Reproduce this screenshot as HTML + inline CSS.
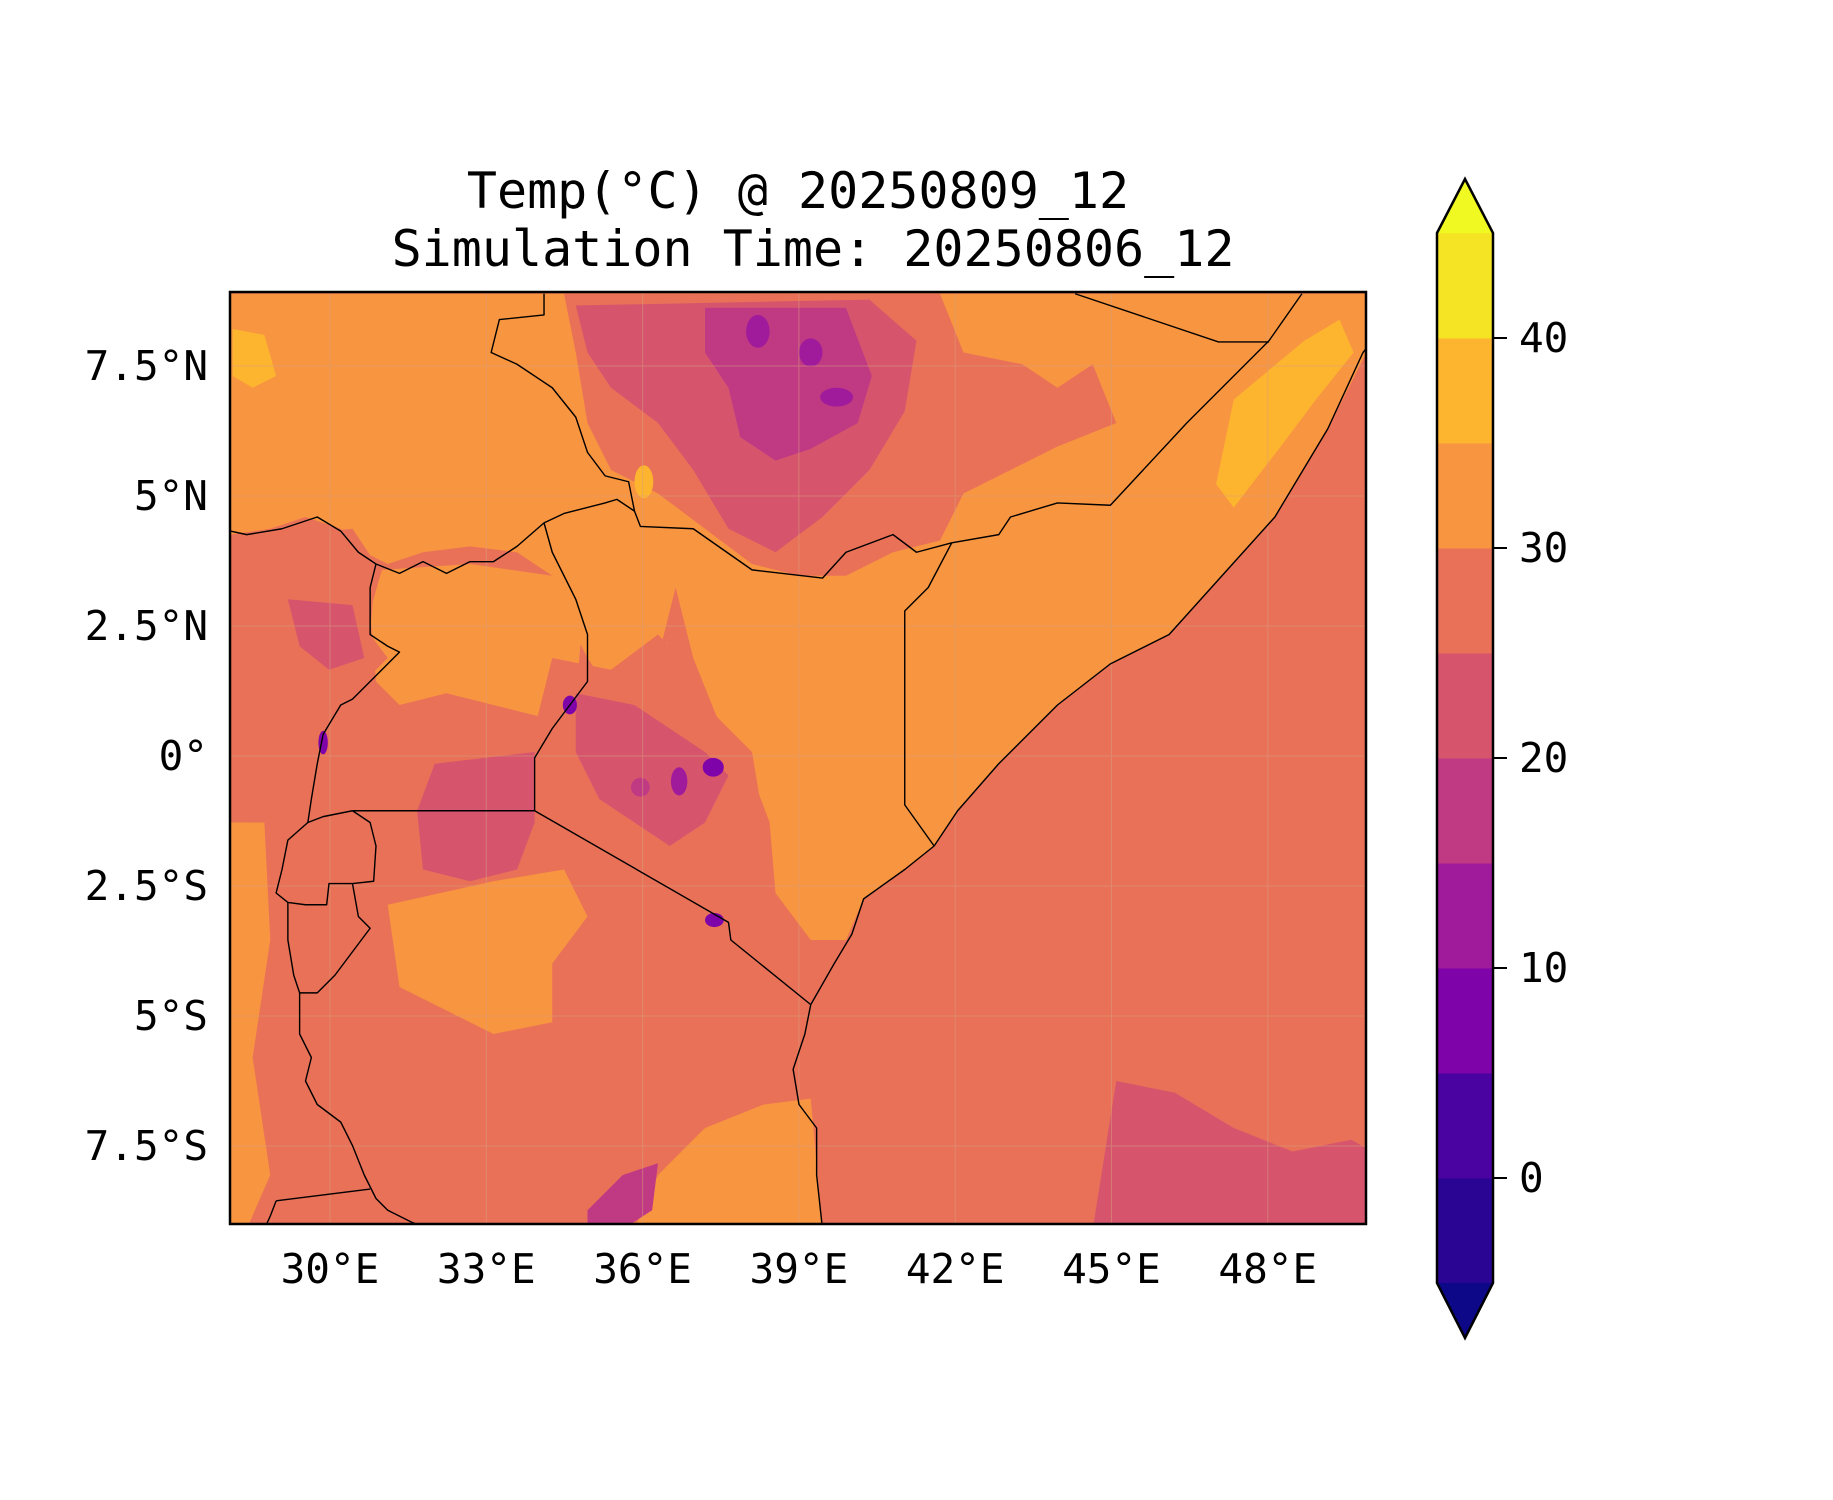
<!DOCTYPE html>
<html><head><meta charset="utf-8"><style>
html,body{margin:0;padding:0;background:#fff;}
svg{display:block;font-family:"DejaVu Sans Mono","Liberation Mono",monospace;}
</style></head><body>
<svg id="fig" width="1833" height="1500" viewBox="0 0 1833 1500" xmlns="http://www.w3.org/2000/svg">
<rect width="1833" height="1500" fill="#fff"/>
<g font-size="50" text-anchor="middle" fill="#000">
<text x="798" y="208">Temp(°C) @ 20250809_12</text>
<text x="813" y="266">Simulation Time: 20250806_12</text>
</g>
<defs><clipPath id="fr"><rect x="230" y="292" width="1136" height="932"/></clipPath></defs>
<g clip-path="url(#fr)">
<g transform="scale(1.175)" stroke="none">
<rect x="190" y="240" width="990" height="820" fill="#e97158"/>
<path fill="#f89540" d="M196,250 L1168,250 L1168,290 L1130,365 L1085,440 L1040,490 L995,540 L945,565 L900,600 L850,650 L815,690 L795,720 L770,740 L735,765 L720,800 L690,800 L660,760 L655,700 L640,660 L610,610 L590,560 L575,500 L560,560 L545,600 L520,590 L500,560 L480,520 L470,490 L440,470 L400,465 L360,470 L330,480 L310,470 L290,450 L260,440 L230,450 L196,455 Z"/>
<path fill="#f89540" d="M325,485 L400,480 L470,490 L495,540 L490,590 L460,610 L420,600 L380,590 L340,600 L320,580 L315,520 Z"/>
<path fill="#f89540" d="M330,770 L420,750 L480,740 L500,780 L470,820 L470,870 L420,880 L380,860 L340,840 Z"/>
<path fill="#f89540" d="M540,1046 L560,1000 L600,960 L650,940 L690,935 L700,1046 Z"/>
<path fill="#f89540" d="M196,700 L225,700 L230,800 L215,900 L230,1000 L210,1046 L196,1046 Z"/>
<path fill="#e97158" d="M480,250 L800,250 L820,300 L870,310 L900,330 L930,310 L950,360 L900,380 L860,400 L820,420 L800,460 L760,470 L720,490 L680,490 L640,480 L600,450 L560,420 L520,400 L500,360 L490,300 Z"/>
<path fill="#e97158" d="M196,460 L300,450 L320,480 L315,540 L330,560 L290,600 L270,650 L262,700 L230,700 L196,690 Z"/>
<path fill="#d6556d" d="M490,260 L740,255 L780,290 L770,350 L740,400 L700,440 L660,470 L620,450 L590,400 L560,360 L520,330 L500,300 Z"/>
<path fill="#c03a83" d="M600,262 L720,262 L742,320 L730,360 L690,382 L660,392 L630,372 L620,330 L600,300 Z"/>
<ellipse cx="645" cy="282" rx="10" ry="14" fill="#a01a9c"/>
<ellipse cx="712" cy="338" rx="14" ry="8" fill="#a01a9c"/>
<ellipse cx="690" cy="300" rx="10" ry="12" fill="#a01a9c"/>
<path fill="#fdb42f" d="M1050,340 L1110,290 L1140,272 L1152,300 L1120,340 L1090,380 L1050,432 L1035,412 Z"/>
<path fill="#fdb42f" d="M198,280 L225,285 L235,320 L215,330 L198,320 Z"/>
<ellipse cx="565" cy="560" rx="6" ry="14" fill="#fdb42f"/>
<ellipse cx="548" cy="410" rx="8" ry="14" fill="#fdb42f"/>
<path fill="#e97158" d="M470,560 L520,570 L560,540 L580,560 L600,600 L640,640 L650,700 L640,760 L620,800 L590,810 L550,790 L510,760 L480,720 L460,680 L455,620 Z"/>
<path fill="#d6556d" d="M490,590 L540,600 L570,620 L600,640 L620,660 L600,700 L570,720 L540,700 L510,680 L490,640 Z"/>
<ellipse cx="607" cy="653" rx="9" ry="8" fill="#7e03a8"/>
<ellipse cx="485" cy="600" rx="6" ry="8" fill="#7e03a8"/>
<ellipse cx="578" cy="665" rx="7" ry="12" fill="#a01a9c"/>
<ellipse cx="545" cy="670" rx="8" ry="8" fill="#c03a83"/>
<ellipse cx="608" cy="783" rx="8" ry="6" fill="#7e03a8"/>
<path fill="#d6556d" d="M370,650 L455,640 L455,700 L440,740 L400,750 L360,740 L355,690 Z"/>
<path fill="#d6556d" d="M245,510 L300,515 L310,560 L280,570 L255,550 Z"/>
<path fill="#d6556d" d="M930,1046 L950,920 L1000,930 L1050,960 L1100,980 L1150,970 L1168,980 L1168,1046 Z"/>
<path fill="#c03a83" d="M500,1030 L530,1000 L560,990 L555,1030 L530,1046 L500,1046 Z"/>
<ellipse cx="275" cy="632" rx="4" ry="10" fill="#7e03a8"/>
</g>
<g id="grid" stroke="#d8a080" stroke-width="1" opacity="0.5"></g>
<g transform="scale(1.175)" fill="none" stroke="#000" stroke-width="1.2" stroke-linejoin="round">
<polyline points="463,250 463,268 425,272 418,300 440,310 470,330 490,355 500,385 515,405 535,410 540,435 545,448 590,450 640,485 700,492 720,470 760,455 780,470 810,462 850,455 860,440 900,428 945,430 1010,360 1080,290 1108,250"/>
<polyline points="915,250 1037,291 1080,291"/>
<polyline points="540,435 525,425 515,428 480,437 463,445 440,465 420,478 400,478 380,488 360,478 340,488 320,480 305,470 290,452 270,440 255,445 240,450 210,455 196,452"/>
<polyline points="463,445 470,470 480,490 490,510 500,540 500,580 485,600 470,620 455,645 455,690"/>
<polyline points="810,462 790,500 770,520 770,685 795,720"/>
<polyline points="455,690 620,785 622,800 690,855"/>
<polyline points="300,690 455,690"/>
<polyline points="320,480 315,500 315,540 330,550 340,555 320,575 300,595 290,600 275,625 270,650 265,680 262,700"/>
<polyline points="262,700 275,695 300,690 315,700 320,720 318,750 300,752 280,752 278,770 260,770 245,768 235,760 240,740 245,715 262,700"/>
<polyline points="300,752 305,780 315,790 300,810 285,830 270,845 255,845"/>
<polyline points="245,768 245,800 250,830 255,845 255,880 265,900 260,920 270,940 290,955 300,975 310,1000 320,1020 330,1030 350,1040 365,1046"/>
<polyline points="235,1022 315,1012"/>
<polyline points="235,1022 230,1035 225,1046"/>
<polyline points="1168,290 1160,300 1130,365 1085,440 1040,490 995,540 945,565 900,600 850,650 815,690 795,720 770,740 735,765 725,795 710,820 690,855 685,880 675,910 680,940 695,960 695,1000 700,1046"/>
</g>
</g>
<rect x="230" y="292" width="1136" height="932" fill="none" stroke="#000" stroke-width="2.5"/>
<g id="xaxis" font-size="41" text-anchor="middle"></g>
<g id="yaxis" font-size="41" text-anchor="end"></g>
<g id="cbar"></g>
<script>
var lonTicks = [30, 33, 36, 39, 42, 45, 48];
var lonLabels = ["30°E","33°E","36°E","39°E","42°E","45°E","48°E"];
var latTicks = [7.5, 5, 2.5, 0, -2.5, -5, -7.5];
var latLabels = ["7.5°N","5°N","2.5°N","0°","2.5°S","5°S","7.5°S"];
var levels = [-5, 0, 5, 10, 15, 20, 25, 30, 35, 40, 45];
var levelColors = ["#2a0593","#4a02a0","#7e03a8","#a01a9c","#c03a83","#d6556d","#e97158","#f89540","#fdb42f","#f4e424"];
var cbTicks = [0, 10, 20, 30, 40];
var NS = "http://www.w3.org/2000/svg";
function xOf(lon){ return 330 + (lon - 30) * 52.1; }
function yOf(lat){ return 756 - lat * 52; }
function cbY(v){ return 1283 - (v - (-5)) * 21; }
function mk(tag, attrs, parent){ var e = document.createElementNS(NS, tag); for (var k in attrs) e.setAttribute(k, attrs[k]); parent.appendChild(e); return e; }
var grid = document.getElementById('grid');
lonTicks.forEach(function(l){
  var ln = mk('line', {x1: xOf(l), x2: xOf(l), y1: 292, y2: 1224}, grid);
  
  
});
latTicks.forEach(function(l){
  var ln = mk('line', {x1: 230, x2: 1366, y1: yOf(l), y2: yOf(l)}, grid);
  
  
});
var xa = document.getElementById('xaxis');
lonTicks.forEach(function(l, i){
  var t = mk('text', {x: xOf(l), y: 1283}, xa);
  t.textContent = lonLabels[i];
  
  
});
var ya = document.getElementById('yaxis');
latTicks.forEach(function(l, i){
  var t = mk('text', {x: 208, y: yOf(l) + 14}, ya);
  t.textContent = latLabels[i];
  
  
});
var cb = document.getElementById('cbar');
var cx0 = 1437, cx1 = 1493, cmid = (cx0 + cx1) / 2;
for (var i = 0; i < levelColors.length; i++) {
  var r = mk('rect', {x: cx0, y: cbY(levels[i + 1]), width: cx1 - cx0, height: cbY(levels[i]) - cbY(levels[i + 1]) + 0.5, fill: levelColors[i]}, cb);
  
  
}
var up = mk('polygon', {points: cx0 + ',' + cbY(45) + ' ' + cmid + ',179 ' + cx1 + ',' + cbY(45), fill: '#f0f921'}, cb);


var dn = mk('polygon', {points: cx0 + ',' + cbY(-5) + ' ' + cmid + ',1338 ' + cx1 + ',' + cbY(-5), fill: '#0d0887'}, cb);


var outline = mk('polygon', {points: cx0 + ',' + cbY(45) + ' ' + cmid + ',179 ' + cx1 + ',' + cbY(45) + ' ' + cx1 + ',' + cbY(-5) + ' ' + cmid + ',1338 ' + cx0 + ',' + cbY(-5), fill: 'none', stroke: '#000', 'stroke-width': 2.5}, cb);


cbTicks.forEach(function(v){
  var tk = mk('line', {x1: cx1, x2: cx1 + 14, y1: cbY(v), y2: cbY(v), stroke: '#000', 'stroke-width': 2}, cb);
  
  
  var t = mk('text', {x: cx1 + 26, y: cbY(v) + 14, 'font-size': 41}, cb);
  t.textContent = String(v);
  
  
});
</script>
</svg>
</body></html>
